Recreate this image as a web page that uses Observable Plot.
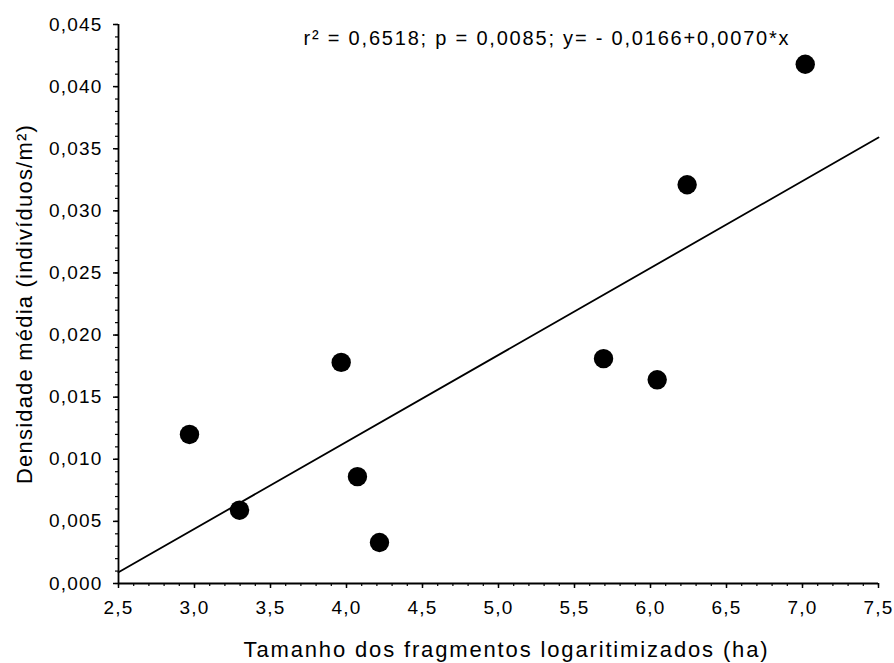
<!DOCTYPE html>
<html>
<head>
<meta charset="utf-8">
<script src="https://cdn.jsdelivr.net/npm/d3@7"></script>
<script src="https://cdn.jsdelivr.net/npm/@observablehq/plot@0.6"></script>
<style>
  html, body { margin: 0; padding: 0; background: #fff; }
  svg text { font-family: "Liberation Sans", Arial, sans-serif; }
  g[aria-label="x-axis tick label"] text,
  g[aria-label="y-axis tick label"] text { letter-spacing: 1.2px; }
</style>
</head>
<body>
<div id="chart"></div>
<script>
// Data
const tamanhoLog = [2.967, 3.296, 3.965, 4.072, 4.217, 5.691, 6.044, 6.241, 7.018];
const densidade  = [0.0120, 0.0059, 0.0178, 0.0086, 0.0033, 0.0181, 0.0164, 0.0321, 0.0418];

// Regression given on the chart
const intercepto = [-0.0166];
const inclinacao = [0.0070];

// Axis ticks
const xTicks = [2.5, 3.0, 3.5, 4.0, 4.5, 5.0, 5.5, 6.0, 6.5, 7.0, 7.5];
const yTicks = [0.000, 0.005, 0.010, 0.015, 0.020, 0.025, 0.030, 0.035, 0.040, 0.045];

const xLabel = "Tamanho dos fragmentos logaritimizados (ha)";
const yLabel = "Densidade média (indivíduos/m²)";
const annotation = "r² = 0,6518; p = 0,0085; y= - 0,0166+0,0070*x";

const points = tamanhoLog.map((x, i) => ({x, y: densidade[i]}));
const xMin = xTicks[0], xMax = xTicks[xTicks.length - 1];
const fitLine = [xMin, xMax].map(x => ({x, y: intercepto[0] + inclinacao[0] * x}));

const xMinor = d3.range(0, (xTicks.length - 1) * 5 + 1).map(i => +(xMin + i * 0.1).toFixed(2));
const yMinor = d3.range(0, (yTicks.length - 1) * 5 + 1).map(i => +(i * 0.001).toFixed(3));

const comma = (f) => (d) => d3.format(f)(d).replace(".", ",");

const chart = Plot.plot({
  width: 894,
  height: 663,
  marginLeft: 118,
  marginRight: 16,
  marginTop: 24,
  marginBottom: 80,
  style: {fontFamily: "Liberation Sans, Arial, sans-serif", background: "#fff", color: "#000"},
  x: {domain: [xMin, xMax]},
  y: {domain: [yTicks[0], yTicks[yTicks.length - 1]]},
  marks: [
    Plot.axisX(xMinor, {tickSize: 3, text: null, strokeWidth: 1.2, label: null}),
    Plot.axisY(yMinor, {tickSize: 3, text: null, strokeWidth: 1.2, label: null}),
    Plot.axisX(xTicks, {tickSize: 5, tickPadding: 12, tickFormat: comma(".1f"), fontSize: 19, strokeWidth: 1.5, label: null}),
    Plot.axisY(yTicks, {tickSize: 5, tickPadding: 11, tickFormat: comma(".3f"), fontSize: 19, strokeWidth: 1.5, label: null}),
    Plot.ruleX([xMin], {strokeWidth: 1.8}),
    Plot.ruleY([yTicks[0]], {strokeWidth: 1.8}),
    Plot.line(fitLine, {x: "x", y: "y", stroke: "#000", strokeWidth: 1.8}),
    Plot.dot(points, {x: "x", y: "y", r: 9.7, fill: "#000", stroke: "none"}),
    Plot.text([annotation], {frameAnchor: "top-left", textAnchor: "start", lineAnchor: "bottom", dx: 185, dy: 20, fontSize: 20}),
    Plot.text([xLabel], {frameAnchor: "bottom", lineAnchor: "middle", dx: 8, dy: 66, fontSize: 22}),
    Plot.text([yLabel], {frameAnchor: "left", rotate: -90, lineAnchor: "middle", textAnchor: "middle", dx: -94, fontSize: 22})
  ]
});
document.getElementById("chart").appendChild(chart);

// Letter spacing to match the wide lettering of the reference
const spacing = {[annotation]: "1.8px", [xLabel]: "1.85px", [yLabel]: "1.2px"};
d3.select(chart).selectAll("text").each(function () {
  const t = this.textContent;
  if (spacing[t]) this.style.letterSpacing = spacing[t];
});
</script>
</body>
</html>
